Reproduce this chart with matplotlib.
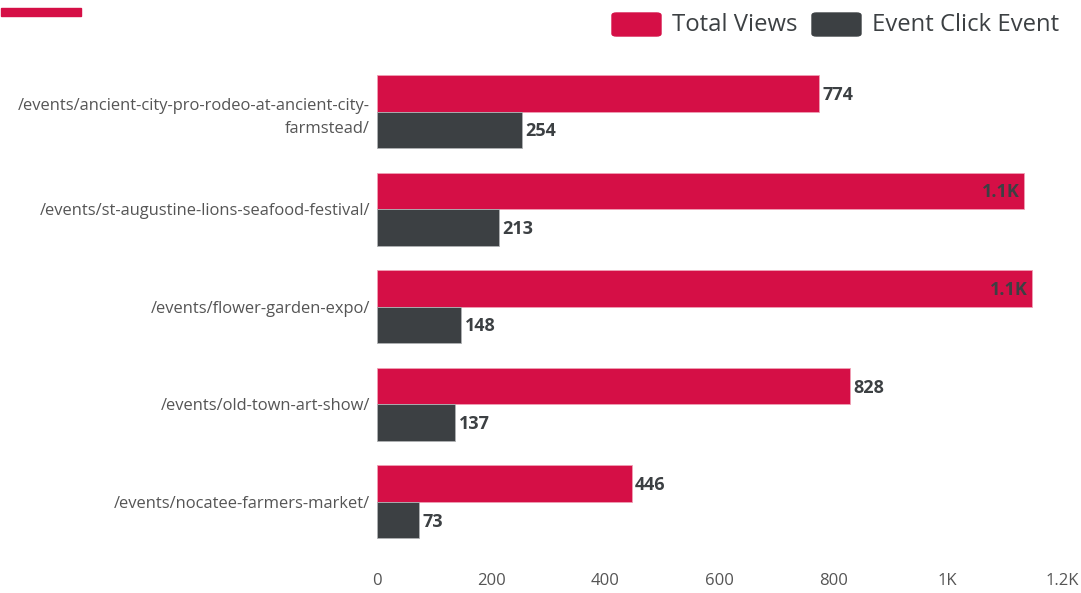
import numpy as np
import matplotlib
matplotlib.use('Agg')
import matplotlib.pyplot as plt
from matplotlib.patches import FancyBboxPatch, Rectangle

plt.rcParams['font.family'] = ['Open Sans', 'DejaVu Sans']

pages = ['/events/ancient-city-pro-rodeo-at-ancient-city-\nfarmstead/',
         '/events/st-augustine-lions-seafood-festival/',
         '/events/flower-garden-expo/',
         '/events/old-town-art-show/',
         '/events/nocatee-farmers-market/']
total_views = [774, 1134, 1148, 828, 446]
click_events = [254, 213, 148, 137, 73]
xticks = [0, 200, 400, 600, 800, 1000, 1200]
xtick_labels = ['0', '200', '400', '600', '800', '1K', '1.2K']

RED = '#d50f46'
DARK = '#3c4043'
TXT = '#3c4043'

def fmt(v):
    return f'{v/1000:.1f}K' if v >= 1000 else str(v)

fig = plt.figure(figsize=(10.81, 5.93), dpi=100)
ax = fig.add_axes([377/1081, 1 - 550.8/593, 685/1081, (550.8 - 62.7)/593])

y = np.arange(len(pages))
h = 0.374
ax.barh(y - h/2, total_views, height=h, color=RED, edgecolor='#f0a0b5', lw=0.6)
ax.barh(y + h/2, click_events, height=h, color=DARK, edgecolor='#b0b2b4', lw=0.6)

for i, (tv, ce) in enumerate(zip(total_views, click_events)):
    if tv >= 1000:
        ax.annotate(fmt(tv), (tv, i - h/2), xytext=(-3.5, -1), textcoords='offset points',
                    ha='right', va='center', fontsize=13, fontweight='bold', color=TXT)
    else:
        ax.annotate(fmt(tv), (tv, i - h/2), xytext=(2.5, -1), textcoords='offset points',
                    ha='left', va='center', fontsize=13, fontweight='bold', color=TXT)
    ax.annotate(fmt(ce), (ce, i + h/2), xytext=(2.5, -1), textcoords='offset points',
                ha='left', va='center', fontsize=13, fontweight='bold', color=TXT)

ax.set_xlim(0, 1200)
ax.set_ylim(len(pages) - 0.5, -0.5)
ax.set_xticks(xticks)
ax.set_xticklabels(xtick_labels, fontsize=12, color='#555555')
ax.set_yticks(y)
ax.set_yticklabels(pages, fontsize=11.9, color='#555555', linespacing=1.65)
ax.tick_params(axis='both', length=0)
ax.tick_params(axis='x', pad=16)
ax.tick_params(axis='y', pad=5)
for s in ax.spines.values():
    s.set_visible(False)

# top-left accent line
fig.patches.append(Rectangle((1/1081, 1 - 16/593), 80/1081, 8/593,
                             transform=fig.transFigure, color=RED))

# legend
def leg_item(x0, color, label):
    fig.patches.append(FancyBboxPatch((x0/1081, 1 - 36/593), 49/1081, 23/593,
                                      boxstyle='round,pad=0,rounding_size=0.004',
                                      transform=fig.transFigure, color=color))
    fig.text((x0 + 60)/1081, 1 - 25/593, label, fontsize=17.2, color=TXT,
             ha='left', va='center')

leg_item(612, RED, 'Total Views')
leg_item(812, DARK, 'Event Click Event')

fig.savefig('out.png', dpi=100)
